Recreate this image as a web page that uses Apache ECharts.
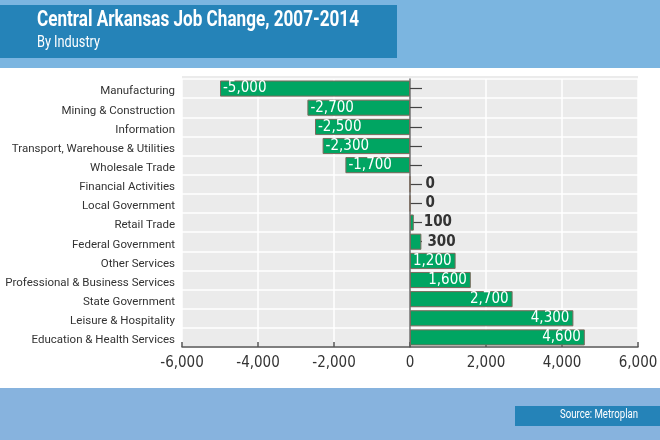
<!DOCTYPE html>
<html><head><meta charset="utf-8">
<script src="https://cdn.jsdelivr.net/npm/echarts@6/dist/echarts.min.js"></script>
<style>html,body{margin:0;padding:0;}#c{width:660px;height:440px;}</style>
</head><body><div id="c"></div>
<script>
const categories = ["Manufacturing","Mining & Construction","Information","Transport, Warehouse & Utilities","Wholesale Trade","Financial Activities","Local Government","Retail Trade","Federal Government","Other Services","Professional & Business Services","State Government","Leisure & Hospitality","Education & Health Services"];
const values = [-5000,-2700,-2500,-2300,-1700,0,0,100,300,1200,1600,2700,4300,4600];
const titleText = "Central Arkansas Job Change, 2007-2014";
const subtitleText = "By Industry";
const sourceText = "Source: Metroplan";
const xTicks = {min:-6000, max:6000, interval:2000};

const COND = '"DejaVu Sans Condensed", "DejaVu Sans", sans-serif';
const fmt = v => v.toLocaleString('en-US');

const mctx = document.createElement('canvas').getContext('2d');
function fitScale(text, font, target) {
  mctx.font = font;
  return target / mctx.measureText(text).width;
}
const titleFont = 'bold 22px Roboto';
const subFont = '16px Roboto';
const srcFont = '12px Roboto';

const chart = echarts.init(document.getElementById('c'), null, {renderer:'canvas'});
const seriesData = values.map(v => {
  let label;
  if (Math.abs(v) < 1000) {
    label = {show:true, position:'right', distance: v === 0 ? 15 : (v < 200 ? 10 : 6), color:'#333', fontWeight:'bold'};
  } else if (v < 0) {
    label = {show:true, position:'insideLeft', distance:3, color:'#fff'};
  } else {
    label = {show:true, position:'insideRight', distance:4, color:'#fff'};
  }
  return {value:v, label};
});

chart.setOption({
  backgroundColor:'#7bb5e0',
  animation:false,
  graphic:[
    {type:'rect', silent:true, z:-10, shape:{x:0,y:68,width:660,height:320}, style:{fill:'#ffffff'}},
    {type:'rect', silent:true, z:-10, shape:{x:0,y:388,width:660,height:52}, style:{fill:'#87b3de'}},
    {type:'rect', silent:true, z:-9, shape:{x:182,y:76,width:456,height:5}, style:{fill:'#ebebeb'}},
    {type:'rect', silent:true, z:-9, shape:{x:0,y:5,width:397,height:53}, style:{fill:'#2583b8'}},
    {type:'rect', silent:true, z:-9, shape:{x:515,y:406,width:145,height:20}, style:{fill:'#2583b8'}},
    {type:'text', z:5, x:37, y:9, scaleX:fitScale(titleText, titleFont, 322), style:{text:titleText, fill:'#fff', font:titleFont}},
    {type:'text', z:5, x:37, y:35, scaleX:fitScale(subtitleText, subFont, 63), style:{text:subtitleText, fill:'#fff', font:subFont}},
    {type:'text', z:5, x:560, y:409, scaleX:fitScale(sourceText, srcFont, 78), style:{text:sourceText, fill:'#fff', font:srcFont}}
  ],
  grid:{left:182, right:22, top:79, bottom:93, show:true, backgroundColor:'#ebebeb', borderWidth:0, containLabel:false, outerBoundsMode:'none'},
  xAxis:{
    type:'value', min:xTicks.min, max:xTicks.max, interval:xTicks.interval,
    axisLine:{show:true, onZero:false, lineStyle:{color:'#555', width:1.5}},
    axisTick:{show:true, inside:true, length:5, lineStyle:{color:'#555', width:1.5}},
    splitLine:{show:true, lineStyle:{color:'#ffffff', width:1.5}},
    axisLabel:{color:'#333', fontFamily:COND, fontSize:15, margin:9, formatter:v => fmt(v)}
  },
  yAxis:[
    {
      type:'category', data:categories, inverse:true,
      axisLine:{show:false, onZero:false}, axisTick:{show:false},
      splitLine:{show:true, lineStyle:{color:'#ffffff', width:1.5}},
      axisLabel:{color:'#333', fontFamily:'Roboto', fontSize:11.5, margin:7, verticalAlign:'top', lineHeight:6}
    },
    {
      type:'category', data:categories, inverse:true, position:'left',
      axisLine:{show:true, onZero:true, lineStyle:{color:'#6b6b6b', width:1.5}},
      axisTick:{show:true, inside:true, alignWithLabel:true, length:12, lineStyle:{color:'#444', width:1.2}},
      axisLabel:{show:false}, splitLine:{show:false}
    }
  ],
  series:[{
    type:'bar', yAxisIndex:0, data:seriesData, barCategoryGap:'16%',
    itemStyle:{color:'#00a562', borderColor:'#7a6a5c', borderWidth:1},
    label:{fontFamily:COND, fontSize:15, formatter:p => fmt(p.value)}
  }]
});
</script></body></html>
